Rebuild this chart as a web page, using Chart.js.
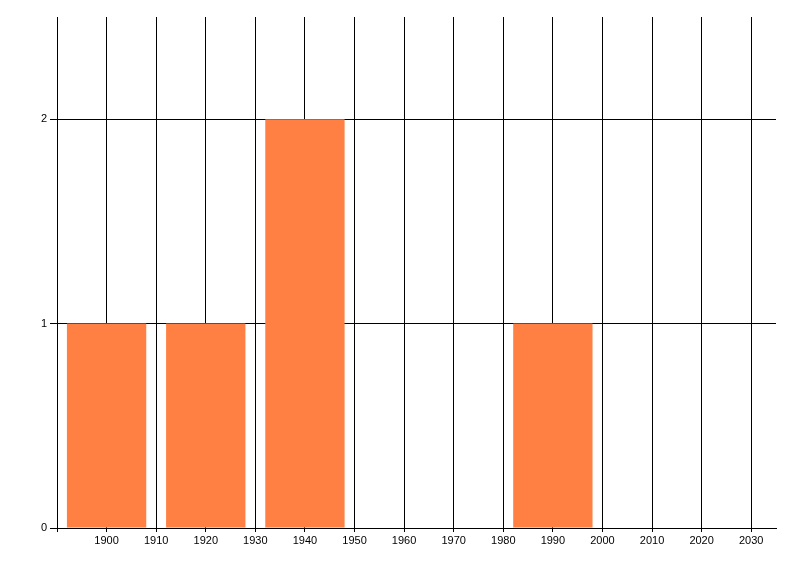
<!DOCTYPE html>
<html>
<head>
<meta charset="utf-8">
<script src="https://cdn.jsdelivr.net/npm/chart.js@4"></script>
<style>
  html, body { margin: 0; padding: 0; background: #ffffff; }
  #wrap { width: 800px; height: 576px; }
</style>
</head>
<body>
<div id="wrap"><canvas id="chart" width="800" height="576"></canvas></div>
<script>
// Decade bins and their counts
const years = [1900, 1920, 1940, 1990];
const counts = [1, 1, 2, 1];

// Axis settings
const xMin = 1890;
const xMax = 2035;
const xLastTick = 2030;
const xStep = 10;
const yMin = 0;
const yMax = 2.5;
const yLastTick = 2;

const barColor = 'rgb(255, 128, 66)';

const ctx = document.getElementById('chart').getContext('2d');

new Chart(ctx, {
    type: 'bar',
    data: {
        datasets: [{
            label: 'Count',
            data: years.map((y, i) => ({ x: y, y: counts[i] })),
            backgroundColor: barColor,
            borderWidth: 0,
            // bar spans 16 of the 20 years between bins (ruler uses 10-year tick spacing)
            categoryPercentage: 1,
            barPercentage: 1.6
        }]
    },
    options: {
        responsive: false,
        animation: false,
        layout: {
            padding: { top: 17, right: 24, bottom: 0, left: 0 }
        },
        plugins: {
            legend: { display: false },
            tooltip: { enabled: false }
        },
        scales: {
            x: {
                type: 'linear',
                min: xMin,
                max: xMax,
                offset: false,
                afterBuildTicks: (axis) => {
                    axis.ticks = axis.ticks.filter(t => t.value <= xLastTick);
                },
                afterFit: (axis) => { axis.height = 48; },
                ticks: {
                    stepSize: xStep,
                    includeBounds: false,
                    autoSkip: false,
                    maxRotation: 0,
                    color: '#000000',
                    padding: 2,
                    font: { family: 'Liberation Sans', size: 11 },
                    callback: (v) => v === xMin ? '' : String(v)
                },
                grid: {
                    offset: false,
                    color: '#000000',
                    lineWidth: 1,
                    tickLength: 4
                },
                border: { color: '#000000', width: 1 }
            },
            y: {
                min: yMin,
                max: yMax,
                afterBuildTicks: (axis) => {
                    axis.ticks = axis.ticks.filter(t => t.value <= yLastTick);
                },
                afterFit: (axis) => { axis.width = 57; },
                ticks: {
                    stepSize: 1,
                    includeBounds: false,
                    color: '#000000',
                    padding: 3,
                    font: { family: 'Liberation Sans', size: 11 }
                },
                grid: {
                    color: '#000000',
                    lineWidth: 1,
                    tickLength: 7
                },
                border: { color: '#000000', width: 1 }
            }
        }
    }
});
</script>
</body>
</html>
